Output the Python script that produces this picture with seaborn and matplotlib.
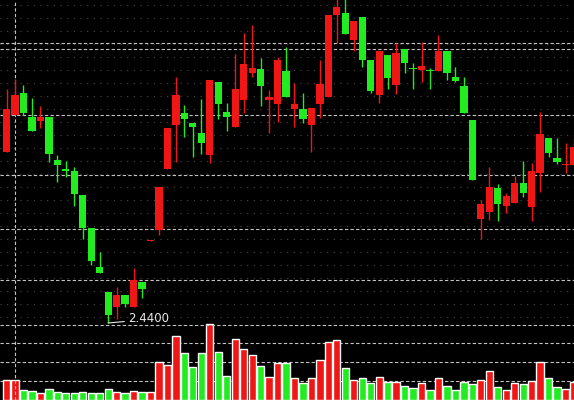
import numpy as np
import pandas as pd
import matplotlib
matplotlib.use("Agg")
import matplotlib.pyplot as plt
import seaborn as sns

# daily candles (price) and volume bars
opens = [3.295, 3.48, 3.59, 3.47, 3.45, 3.47, 3.255, 3.21, 3.20, 3.08,
         2.915, 2.72, 2.595, 2.52, 2.58, 2.52, 2.645, 2.85, 2.905, 3.21,
         3.43, 3.49, 3.44, 3.39, 3.28, 3.645, 3.495, 3.42, 3.555, 3.69,
         3.71, 3.555, 3.535, 3.70, 3.51, 3.51, 3.43, 3.535, 3.57, 3.98,
         3.99, 3.855, 3.97, 3.755, 3.58, 3.78, 3.63, 3.81, 3.715, 3.705,
         3.705, 3.70, 3.80, 3.67, 3.625, 3.455, 2.96, 2.995, 3.115, 3.025,
         3.04, 3.14, 3.02, 3.19, 3.365, 3.265, 3.23, 3.23]
closes = [3.51, 3.58, 3.49, 3.40, 3.47, 3.285, 3.23, 3.20, 3.085, 2.915,
          2.75, 2.69, 2.48, 2.58, 2.535, 2.655, 2.61, 2.855, 3.12, 3.415,
          3.58, 3.46, 3.42, 3.34, 3.655, 3.535, 3.47, 3.61, 3.735, 3.715,
          3.625, 3.57, 3.755, 3.57, 3.535, 3.46, 3.515, 3.635, 3.98, 4.02,
          3.885, 3.95, 3.755, 3.60, 3.80, 3.665, 3.79, 3.74, 3.71, 3.725,
          3.70, 3.80, 3.69, 3.65, 3.49, 3.155, 3.035, 3.12, 3.035, 3.075,
          3.14, 3.09, 3.20, 3.385, 3.29, 3.245, 3.235, 3.32]
highs = [3.61, 3.66, 3.63, 3.565, 3.525, 3.47, 3.28, 3.25, 3.22, 3.08,
         2.915, 2.795, 2.595, 2.62, 2.58, 2.715, 2.645, 2.855, 3.12, 3.415,
         3.67, 3.53, 3.44, 3.56, 3.655, 3.645, 3.54, 3.785, 3.89, 3.93,
         3.765, 3.605, 3.77, 3.82, 3.64, 3.59, 3.515, 3.755, 3.98, 4.07,
         4.06, 3.95, 3.97, 3.755, 3.80, 3.78, 3.84, 3.81, 3.74, 3.845,
         3.715, 3.88, 3.80, 3.72, 3.67, 3.455, 3.055, 3.22, 3.135, 3.09,
         3.175, 3.25, 3.24, 3.495, 3.365, 3.365, 3.34, 3.365]
lows = [3.295, 3.48, 3.48, 3.40, 3.415, 3.245, 3.145, 3.17, 3.025, 2.86,
        2.73, 2.69, 2.44, 2.46, 2.52, 2.52, 2.565, 2.85, 2.88, 3.21,
        3.245, 3.37, 3.27, 3.285, 3.24, 3.46, 3.40, 3.42, 3.49, 3.67,
        3.525, 3.39, 3.445, 3.57, 3.42, 3.44, 3.295, 3.465, 3.57, 3.84,
        3.885, 3.80, 3.72, 3.59, 3.54, 3.61, 3.585, 3.69, 3.61, 3.645,
        3.61, 3.70, 3.655, 3.645, 3.49, 3.155, 2.86, 2.955, 2.95, 2.99,
        3.04, 3.07, 2.95, 3.095, 3.27, 3.235, 3.19, 3.23]
volumes = [20, 20, 10, 9, 7, 11, 8, 7, 7, 8,
           7, 7, 11, 8, 7, 9, 8, 8, 38, 35,
           64, 47, 33, 47, 76, 48, 24, 61, 51, 45,
           34, 23, 37, 37, 22, 17, 22, 40, 58, 60,
           32, 20, 22, 17, 23, 18, 18, 14, 12, 17,
           10, 22, 14, 10, 18, 16, 20, 29, 13, 10,
           17, 16, 19, 38, 22, 13, 11, 18]
low_label = "2.4400"

price_levels = [3.84, 3.81, 3.48, 3.18, 2.91, 2.655, 2.43]
volume_levels = [19, 38, 57]

UP = "#f01616"
DOWN = "#20ec20"
GRID = "#c4c4c4"

sns.set_theme(style="dark", rc={"axes.facecolor": "black",
                                "figure.facecolor": "black"})

df = pd.DataFrame({"open": opens, "close": closes, "high": highs,
                   "low": lows, "volume": volumes})
df["day"] = np.arange(len(df))
df["dir"] = np.where(df["close"] >= df["open"], "up", "down")
colors = [UP if d == "up" else DOWN for d in df["dir"]]

fig = plt.figure(figsize=(5.74, 4.0), dpi=100)
ax_vol = fig.add_axes([0, 0, 1, 1])
ax = fig.add_axes([0, 0, 1, 1])
ax.set_facecolor("none")

# volume bars
sns.barplot(data=df, x="day", y="volume", hue="dir",
            palette={"up": UP, "down": DOWN}, dodge=False, legend=False,
            width=0.86, saturation=1, ax=ax_vol, zorder=3)
ax_vol.set_ylim(0, 400)

# candles
body_lo = np.minimum(df["open"], df["close"])
body_h = np.maximum(np.abs(df["close"] - df["open"]), 0.006)
ax.vlines(df["day"], df["low"], df["high"], colors=colors, lw=1.0, zorder=3)
ax.bar(df["day"], body_h, bottom=body_lo, width=0.86, color=colors,
       linewidth=0, zorder=4)
ax.set_ylim(2.055, 4.055)

# grid
for lv in price_levels:
    ax.axhline(lv, color=GRID, lw=0.8, dashes=(3, 2), zorder=1)
for lv in volume_levels:
    ax_vol.axhline(lv, color=GRID, lw=0.8, dashes=(3, 2), zorder=1)
for lv in np.arange(2.47, 4.05, 0.065):
    ax.axhline(lv, color="#4a4a4a", lw=0.8, dashes=(1, 5), zorder=0)
ax.axvline(1, color=GRID, lw=0.8, dashes=(3, 2), zorder=1)

# low marker
low_day = int(np.argmin(lows))
ax.annotate(low_label, xy=(low_day, lows[low_day]), xytext=(14.3, 2.465),
            color="#e8e8e8", fontsize=8.5, ha="left", va="center",
            arrowprops=dict(arrowstyle="-", color="#e8e8e8", lw=0.8,
                            shrinkA=0, shrinkB=0, relpos=(0, 0.25)),
            zorder=5)

for a in (ax, ax_vol):
    a.set_xlim(-0.77, 67.0)
    a.set_xticks([])
    a.set_yticks([])
    a.set_xlabel("")
    a.set_ylabel("")
    a.grid(False)
    for s in a.spines.values():
        s.set_visible(False)

fig.savefig("out.png", dpi=100, facecolor="black")
